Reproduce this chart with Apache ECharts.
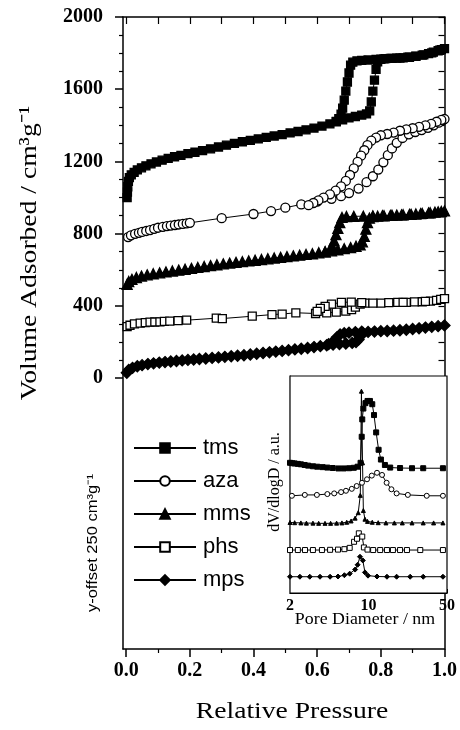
<!DOCTYPE html>
<html><head><meta charset="utf-8">
<script src="https://cdn.jsdelivr.net/npm/echarts@6/dist/echarts.min.js"></script>
<style>html,body{margin:0;padding:0;background:#fff}#c{width:460px;height:730px}</style>
</head><body><div id="c"></div>
<script>
// ---------- data ----------
const seriesNames = ['tms', 'aza', 'mms', 'phs', 'mps'];

// isotherms: [relative pressure, volume adsorbed (offset)] adsorption then desorption
const tms = [
[0.003,1000],[0.004,1030],[0.005,1060],[0.007,1090],[0.010,1110],[0.016,1126],[0.025,1140],[0.035,1153],[0.048,1165],[0.062,1176],[0.078,1187],[0.095,1197],[0.113,1207],[0.132,1217],[0.152,1226],[0.172,1234],[0.194,1243],[0.216,1251],[0.24,1260],[0.265,1270],[0.29,1280],[0.315,1290],[0.34,1300],[0.365,1309],[0.39,1317],[0.415,1325],[0.44,1333],[0.465,1341],[0.49,1349],[0.515,1358],[0.54,1366],[0.565,1375],[0.59,1385],[0.615,1396],[0.64,1408],[0.66,1420],[0.68,1431],[0.70,1441],[0.72,1449],[0.74,1457],[0.755,1463],[0.765,1480],[0.77,1530],[0.775,1590],[0.78,1650],[0.785,1710],[0.79,1752],[0.80,1766],[0.815,1769],[0.83,1771],[0.85,1772],[0.87,1774],[0.89,1777],[0.91,1782],[0.93,1789],[0.95,1797],[0.965,1805],[0.98,1813],[0.99,1819],[1.0,1825],
[0.985,1816],[0.96,1801],[0.935,1790],[0.91,1783],[0.885,1777],[0.86,1773],[0.835,1771],[0.81,1768],[0.785,1765],[0.76,1762],[0.74,1760],[0.725,1757],[0.712,1750],[0.705,1733],[0.70,1690],[0.695,1640],[0.69,1590],[0.685,1540],[0.68,1495],[0.675,1462],[0.668,1437],[0.66,1422]
];
const aza = [
[0.006,781],[0.015,791],[0.028,799],[0.04,805],[0.05,810],[0.063,815],[0.075,820],[0.088,827],[0.10,833],[0.115,838],[0.128,842],[0.14,845],[0.153,848],[0.165,851],[0.178,854],[0.19,857],[0.20,860],[0.30,886],[0.40,909],[0.455,925],[0.50,944],[0.55,962],[0.60,978],[0.645,993],[0.675,1008],[0.70,1025],[0.73,1050],[0.755,1085],[0.775,1118],[0.792,1155],[0.808,1195],[0.822,1235],[0.835,1272],[0.85,1303],[0.868,1330],[0.888,1350],[0.908,1363],[0.928,1374],[0.948,1386],[0.966,1400],[0.982,1415],[0.994,1428],[1.0,1435],
[0.99,1430],[0.975,1420],[0.958,1408],[0.94,1400],[0.92,1392],[0.9,1384],[0.88,1378],[0.86,1370],[0.84,1360],[0.82,1352],[0.80,1345],[0.785,1332],[0.77,1315],[0.758,1290],[0.748,1262],[0.738,1232],[0.727,1198],[0.715,1162],[0.703,1125],[0.69,1092],[0.675,1062],[0.658,1038],[0.64,1018],[0.62,1000],[0.604,985],[0.588,970],[0.573,958]
];
const mms = [
[0.003,520],[0.008,535],[0.018,547],[0.032,557],[0.048,565],[0.066,572],[0.085,578],[0.105,583],[0.125,588],[0.145,593],[0.165,598],[0.185,603],[0.205,608],[0.225,613],[0.245,618],[0.265,623],[0.285,628],[0.305,633],[0.325,637],[0.345,641],[0.365,645],[0.385,649],[0.405,653],[0.425,657],[0.445,661],[0.465,665],[0.485,669],[0.505,673],[0.525,677],[0.545,681],[0.565,685],[0.585,689],[0.605,694],[0.625,699],[0.645,705],[0.665,711],[0.685,717],[0.705,723],[0.722,730],[0.735,738],[0.742,755],[0.748,785],[0.753,825],[0.758,862],[0.764,886],[0.775,895],[0.79,897],[0.81,899],[0.83,901],[0.85,903],[0.87,905],[0.89,907],[0.91,909],[0.93,912],[0.95,915],[0.97,919],[0.99,923],[1.0,926],
[0.98,921],[0.955,916],[0.925,911],[0.895,907],[0.865,904],[0.835,902],[0.805,900],[0.775,898],[0.745,897],[0.715,896],[0.692,895],[0.678,890],[0.671,862],[0.665,830],[0.659,795],[0.653,760],[0.647,730],[0.64,713],[0.625,700]
];
const phs = [
[0.003,285],[0.012,293],[0.026,300],[0.044,305],[0.06,308],[0.075,310],[0.09,311],[0.106,312],[0.12,314],[0.137,316],[0.163,318],[0.19,321],[0.283,332],[0.302,330],[0.396,343],[0.458,352],[0.49,355],[0.533,362],[0.595,358],[0.63,362],[0.66,366],[0.69,371],[0.708,380],[0.72,393],[0.735,410],[0.75,415],[0.80,416],[0.853,420],[0.88,420],[0.906,422],[0.93,423],[0.956,427],[0.975,431],[0.988,436],[1.0,440],
[0.94,425],[0.87,420],[0.825,418],[0.775,416],[0.74,418],[0.707,421],[0.676,420],[0.645,410],[0.625,398],[0.61,386],[0.6,370]
];
const mps = [
[0.002,30],[0.008,45],[0.02,57],[0.035,66],[0.05,72],[0.068,78],[0.086,82],[0.104,86],[0.122,89],[0.14,92],[0.158,95],[0.176,98],[0.194,101],[0.212,103],[0.23,106],[0.25,109],[0.27,112],[0.29,115],[0.31,118],[0.33,121],[0.35,124],[0.37,127],[0.39,131],[0.41,135],[0.43,139],[0.45,143],[0.47,147],[0.49,151],[0.51,155],[0.53,159],[0.55,163],[0.57,167],[0.59,172],[0.61,177],[0.63,182],[0.65,186],[0.67,189],[0.69,192],[0.71,195],[0.722,200],[0.73,214],[0.736,233],[0.744,250],[0.76,256],[0.78,258],[0.80,260],[0.82,261],[0.84,263],[0.86,265],[0.88,268],[0.90,272],[0.92,276],[0.94,280],[0.96,284],[0.98,288],[1.0,292],
[0.74,257],[0.72,255],[0.70,252],[0.685,249],[0.672,242],[0.662,226],[0.654,208],[0.646,195],[0.636,188]
];

// pore size distributions: [pore diameter nm, dV/dlogD a.u.]
const tmsPSD = [[2.0,60],[2.1,59.8],[2.2,59.7],[2.35,59.5],[2.5,59.3],[2.7,59],[2.9,58.7],[3.2,58.4],[3.5,58.2],[3.9,58],[4.3,57.8],[4.8,57.6],[5.4,57.4],[6.0,57.4],[6.7,57.5],[7.4,57.7],[8.0,58.2],[8.5,60],[8.7,72],[8.8,80],[9.0,85],[9.4,87.5],[9.8,88.5],[10.3,88.5],[10.8,87],[11.2,82],[11.7,74],[12.3,66],[12.9,61.5],[14,59],[15.6,57.8],[19.1,57.6],[24.4,57.5],[30.7,57.5],[46,57.5]];
const azaPSD = [[2.08,44.8],[2.71,45.2],[3.47,45.2],[4.3,45.6],[4.95,45.9],[5.7,46.5],[6.3,47.1],[7.1,48],[7.85,49.3],[8.75,50.8],[9.7,52.4],[10.7,54.1],[11.9,55.4],[13.2,54.4],[14.5,50.8],[16,47.8],[17.8,45.9],[22.4,45.2],[33,44.8],[46,44.8]];
const mmsPSD = [[2.0,32.5],[2.2,32.4],[2.5,32.3],[2.8,32.2],[3.2,32.2],[3.6,32.1],[4.1,32.1],[4.6,32.1],[5.2,32.2],[5.8,32.3],[6.4,32.6],[7.0,33.2],[7.6,34.5],[8.1,37],[8.45,45],[8.65,93],[8.85,60],[9.0,38],[9.3,34],[9.8,33],[10.8,32.6],[12.2,32.4],[14.3,32.3],[17,32.3],[20,32.3],[24.4,32.3],[30.7,32.3],[38,32.3],[46,32.3]];
const phsPSD = [[2.0,19.8],[2.35,19.8],[2.72,19.8],[3.2,19.8],[3.85,19.8],[4.55,19.9],[5.35,20],[6.1,20.2],[6.8,20.8],[7.44,23.6],[7.9,25],[8.2,27.5],[8.8,26],[9.1,21],[9.8,20],[11,19.8],[12.7,19.8],[14.6,19.8],[16.5,19.8],[19.1,19.8],[22,19.8],[28.9,19.8],[46,19.8]];
const mpsPSD = [[2.0,7.5],[2.45,7.5],[3.0,7.5],[3.7,7.5],[4.55,7.5],[5.35,7.6],[6.1,8.2],[6.8,8.9],[7.6,10.8],[8.0,13],[8.4,16.7],[8.9,15],[9.3,9.5],[9.9,8],[11.9,7.6],[14.6,7.5],[17.8,7.5],[23.5,7.5],[30.7,7.5],[46,7.5]];

// ticks
const xTicks = [0, 0.2, 0.4, 0.6, 0.8, 1.0];
const xMinorTicks = [0.1, 0.3, 0.5, 0.7, 0.9];
const xTopTicks = [0, 0.1, 0.2, 0.3, 0.4, 0.5, 0.6, 0.7, 0.8, 0.9, 1.0];
const yTicks = [0, 400, 800, 1200, 1600, 2000];
const yMinorTicks = [100, 200, 300, 500, 600, 700, 900, 1000, 1100, 1300, 1400, 1500, 1700, 1800, 1900];
const yRightTicks = [0, 100, 200, 300, 400, 500, 600, 700, 800, 900, 1000, 1100, 1200, 1300, 1400, 1500, 1600, 1700, 1800, 1900, 2000];
const poreTicks = [2, 10, 50];
const poreMinorTicks = [3, 4, 5, 6, 7, 8, 9, 20, 30, 40];
const psdTicks = [10, 20, 30, 40, 50, 60, 70, 80, 90];

// ---------- chart ----------
const SERIF = '"Liberation Serif", "Times New Roman", serif';
const SANS = '"Liberation Sans", Arial, sans-serif';
const BLACK = '#000';

const mainSets = [tms, aza, mms, phs, mps];
const psdSets = [tmsPSD, azaPSD, mmsPSD, phsPSD, mpsPSD];
const symbols = [
  {symbol: 'rect', size: 8, fill: BLACK},
  {symbol: 'circle', size: 9, fill: '#fff'},
  {symbol: 'triangle', size: 10, fill: BLACK},
  {symbol: 'rect', size: 8, fill: '#fff'},
  {symbol: 'diamond', size: 11, fill: BLACK}
];
const psdSym = [5, 5, 4, 5, 5];

const series = [];
seriesNames.forEach((n, i) => {
  series.push({
    name: n, type: 'line', xAxisIndex: 0, yAxisIndex: 0,
    data: mainSets[i],
    symbol: symbols[i].symbol, symbolSize: symbols[i].size, showAllSymbol: true,
    lineStyle: {color: BLACK, width: 1},
    itemStyle: {color: symbols[i].fill, borderColor: BLACK, borderWidth: 1.3},
    emphasis: {disabled: true}, z: 3
  });
});
seriesNames.forEach((n, i) => {
  series.push({
    name: n, type: 'line', xAxisIndex: 3, yAxisIndex: 3,
    data: psdSets[i].map(p => [Math.log10(p[0]), p[1]]),
    symbol: symbols[i].symbol, symbolSize: psdSym[i], showAllSymbol: true,
    lineStyle: {color: BLACK, width: 1},
    itemStyle: {color: symbols[i].fill, borderColor: BLACK, borderWidth: 1},
    emphasis: {disabled: true}, z: 3
  });
});

const axLine = {show: true, onZero: false, lineStyle: {color: BLACK, width: 1.5}};
const noLine = {show: false, onZero: false};
const insetLine = {show: true, onZero: false, lineStyle: {color: BLACK, width: 1.2}};

const option = {
  animation: false,
  backgroundColor: '#fff',
  grid: [
    {left: 123, right: 12, top: 17, bottom: 81, show: false},
    {left: 290, top: 376, width: 157, height: 217, show: true, borderColor: BLACK, borderWidth: 1.2, backgroundColor: '#fff', z: 1}
  ],
  legend: {
    data: seriesNames, orient: 'vertical', left: 128, top: 432,
    itemWidth: 62, itemHeight: 12, itemGap: 11, selectedMode: false,
    textStyle: {fontFamily: SANS, fontSize: 22, color: BLACK, lineHeight: 20, padding: [0, 0, 0, 2]}
  },
  xAxis: [
    {gridIndex: 0, type: 'value', position: 'bottom', min: -0.01, max: 1.0,
     axisLine: axLine, splitLine: {show: false},
     axisTick: {customValues: xTicks, length: 8, inside: false, lineStyle: {color: BLACK, width: 1.5}},
     axisLabel: {customValues: xTicks, formatter: v => v.toFixed(1), fontFamily: SERIF, fontSize: 20, fontWeight: 'bold', color: BLACK, margin: 12}},
    {gridIndex: 0, type: 'value', position: 'bottom', min: -0.01, max: 1.0,
     axisLine: noLine, splitLine: {show: false},
     axisTick: {customValues: xMinorTicks, length: 4, inside: false, lineStyle: {color: BLACK, width: 1.2}},
     axisLabel: {show: false}},
    {gridIndex: 0, type: 'value', position: 'top', min: -0.01, max: 1.0,
     axisLine: axLine, splitLine: {show: false},
     axisTick: {customValues: xTopTicks, length: 7, inside: true, lineStyle: {color: BLACK, width: 1.2}},
     axisLabel: {show: false}},
    {gridIndex: 1, type: 'value', position: 'bottom', min: Math.log10(2), max: Math.log10(50),
     axisLine: insetLine, splitLine: {show: false},
     axisTick: {customValues: poreTicks.concat(poreMinorTicks).map(v => Math.log10(v)), length: 4, inside: true, lineStyle: {color: BLACK, width: 1}},
     axisLabel: {customValues: poreTicks.map(v => Math.log10(v)), formatter: v => String(Math.round(Math.pow(10, v))), fontFamily: SERIF, fontSize: 16, fontWeight: 'bold', color: BLACK, margin: 5}}
  ],
  yAxis: [
    {gridIndex: 0, type: 'value', position: 'left', min: -1500, max: 2000,
     axisLine: axLine, splitLine: {show: false},
     axisTick: {customValues: yTicks, length: 8, inside: false, lineStyle: {color: BLACK, width: 1.5}},
     axisLabel: {customValues: yTicks, formatter: v => String(v), fontFamily: SERIF, fontSize: 20, fontWeight: 'bold', color: BLACK, margin: 20}},
    {gridIndex: 0, type: 'value', position: 'left', min: -1500, max: 2000,
     axisLine: noLine, splitLine: {show: false},
     axisTick: {customValues: yMinorTicks, length: 4, inside: false, lineStyle: {color: BLACK, width: 1.2}},
     axisLabel: {show: false}},
    {gridIndex: 0, type: 'value', position: 'right', min: -1500, max: 2000,
     axisLine: axLine, splitLine: {show: false},
     axisTick: {customValues: yRightTicks, length: 6, inside: true, lineStyle: {color: BLACK, width: 1.2}},
     axisLabel: {show: false}},
    {gridIndex: 1, type: 'value', position: 'left', min: 0, max: 100,
     axisLine: insetLine, splitLine: {show: false},
     axisTick: {customValues: psdTicks, length: 3, inside: true, lineStyle: {color: BLACK, width: 1}},
     axisLabel: {show: false}}
  ],
  graphic: [
    {type: 'text', x: 30, y: 253, rotation: Math.PI / 2, scaleX: 1.15,
     style: {text: 'Volume Adsorbed / cm³g⁻¹', font: '24px ' + SERIF, fill: BLACK, align: 'center', verticalAlign: 'middle'}},
    {type: 'text', x: 93, y: 543, rotation: Math.PI / 2, scaleX: 1.1,
     style: {text: 'y-offset 250 cm³g⁻¹', font: '15px ' + SANS, fill: BLACK, align: 'center', verticalAlign: 'middle'}},
    {type: 'text', x: 292, y: 712, scaleX: 1.15,
     style: {text: 'Relative Pressure', font: '24px ' + SERIF, fill: BLACK, align: 'center', verticalAlign: 'middle'}},
    {type: 'text', x: 365, y: 620, scaleX: 1.05,
     style: {text: 'Pore Diameter / nm', font: '17px ' + SERIF, fill: BLACK, align: 'center', verticalAlign: 'middle'}},
    {type: 'text', x: 275, y: 482, rotation: Math.PI / 2,
     style: {text: 'dV/dlogD / a.u.', font: '16px ' + SERIF, fill: BLACK, align: 'center', verticalAlign: 'middle'}}
  ],
  series: series
};

const chart = echarts.init(document.getElementById('c'), null, {renderer: 'canvas'});
chart.setOption(option);
</script>
</body></html>
